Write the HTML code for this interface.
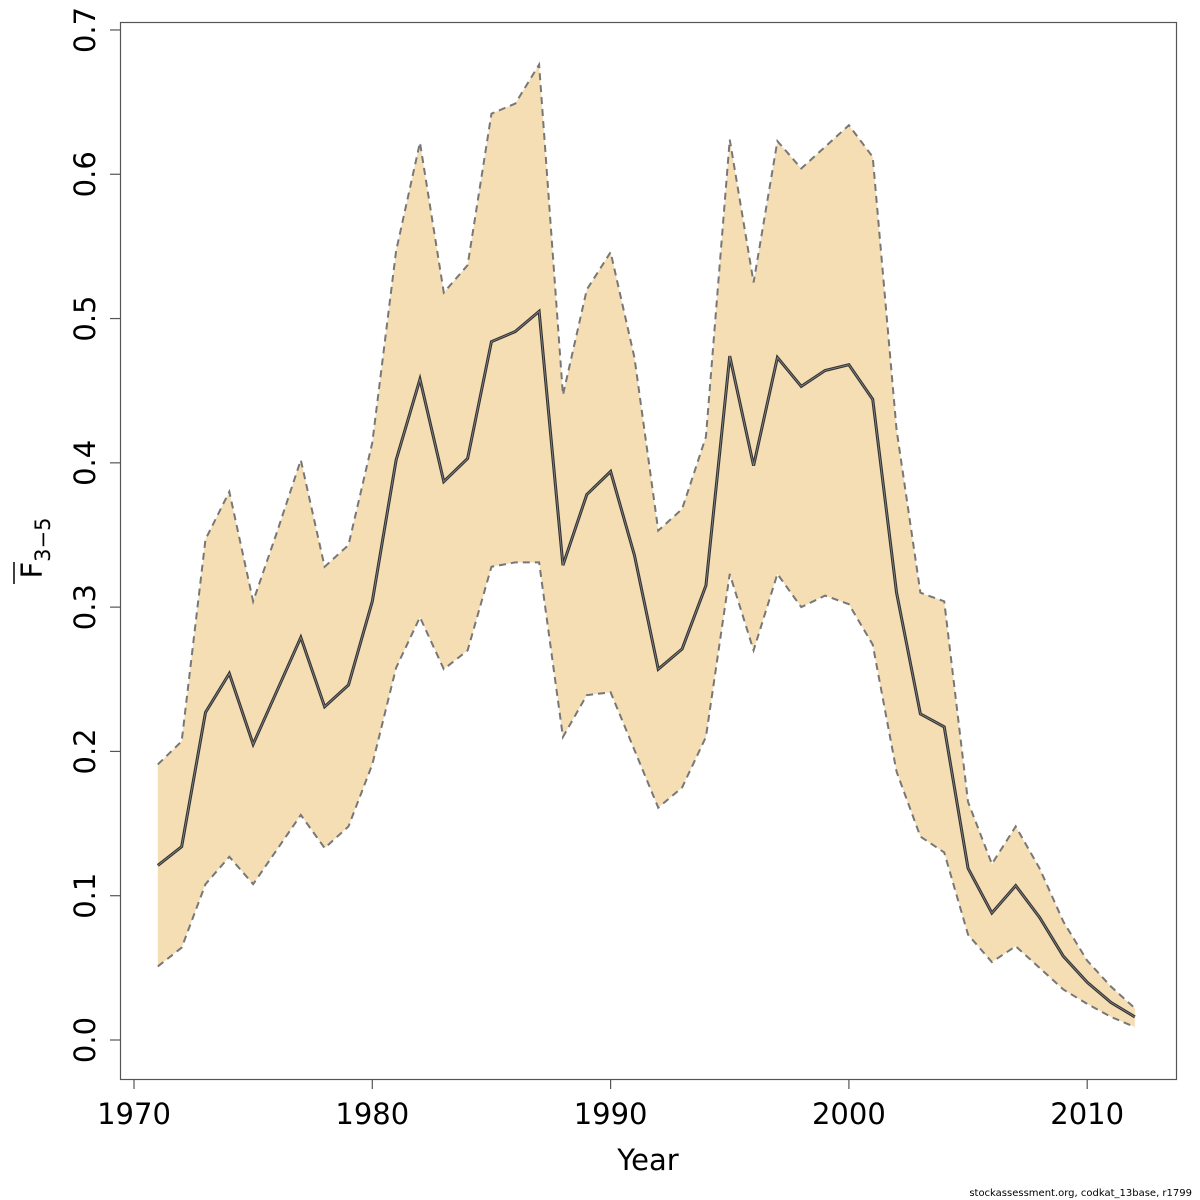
<!DOCTYPE html>
<html><head><meta charset="utf-8"><style>
body{margin:0;background:#fff}
svg{display:block;font-family:"DejaVu Sans","Liberation Sans",sans-serif}
</style></head><body>
<svg id="chart" width="1200" height="1200" viewBox="0 0 1200 1200" xmlns="http://www.w3.org/2000/svg">
<rect x="120.5" y="22.5" width="1056" height="1057" fill="none" stroke="#555" stroke-width="1.2"/>
<g id="bands"></g>
<g id="xaxis"></g>
<g id="yaxis"></g>
<text x="648" y="1170" font-size="29" text-anchor="middle">Year</text>
<g transform="translate(42,548) rotate(-90)">
<text x="0" y="0" font-size="29" text-anchor="middle">F<tspan font-size="21" dy="8">3−5</tspan></text>
<line x1="-36" y1="-28" x2="-14" y2="-28" stroke="#000" stroke-width="1.5"/>
</g>
<text x="1192" y="1196" font-size="10" text-anchor="end" font-family="DejaVu Sans, sans-serif">stockassessment.org, codkat_13base, r1799</text>
</svg>
<script>
const years=[1971,1972,1973,1974,1975,1976,1977,1978,1979,1980,1981,1982,1983,1984,1985,1986,1987,1988,1989,1990,1991,1992,1993,1994,1995,1996,1997,1998,1999,2000,2001,2002,2003,2004,2005,2006,2007,2008,2009,2010,2011,2012];
const estimate=[0.121,0.134,0.227,0.254,0.205,0.242,0.279,0.231,0.246,0.304,0.402,0.458,0.387,0.403,0.484,0.491,0.505,0.329,0.378,0.394,0.336,0.257,0.271,0.315,0.474,0.398,0.473,0.453,0.464,0.468,0.444,0.310,0.226,0.217,0.119,0.088,0.107,0.085,0.058,0.040,0.026,0.016];
const upper=[0.191,0.207,0.347,0.380,0.304,0.352,0.402,0.328,0.343,0.414,0.547,0.622,0.518,0.537,0.642,0.649,0.676,0.447,0.520,0.546,0.473,0.353,0.368,0.418,0.624,0.525,0.623,0.604,0.619,0.634,0.612,0.423,0.310,0.304,0.165,0.122,0.148,0.119,0.082,0.055,0.037,0.022];
const lower=[0.051,0.064,0.108,0.127,0.108,0.132,0.156,0.133,0.148,0.191,0.258,0.293,0.257,0.270,0.328,0.331,0.331,0.210,0.239,0.241,0.201,0.161,0.175,0.210,0.323,0.270,0.323,0.300,0.308,0.302,0.274,0.186,0.141,0.130,0.073,0.054,0.065,0.050,0.035,0.025,0.016,0.009];
const xTicks=[1970,1980,1990,2000,2010];
const yTicks=[0,0.1,0.2,0.3,0.4,0.5,0.6,0.7];
const yTickLabels=["0.0","0.1","0.2","0.3","0.4","0.5","0.6","0.7"];

const NS="http://www.w3.org/2000/svg";
const X=v=>134+(v-1970)*23.83;
const Y=v=>1040-v*1442.9;
function mk(tag,attrs,parent){const e=document.createElementNS(NS,tag);for(const k in attrs)e.setAttribute(k,attrs[k]);parent.appendChild(e);return e;}
const bands=document.getElementById('bands');
const up=years.map((y,i)=>X(y)+','+Y(upper[i]));
const lo=years.map((y,i)=>X(y)+','+Y(lower[i])).reverse();
const poly=mk('polygon',{points:up.concat(lo).join(' '),fill:'#f5deb3',stroke:'none'},bands);


const ul=mk('polyline',{points:up.join(' '),fill:'none',stroke:'#777','stroke-width':2,'stroke-dasharray':'7,5'},bands);


const ll=mk('polyline',{points:years.map((y,i)=>X(y)+','+Y(lower[i])).join(' '),fill:'none',stroke:'#777','stroke-width':2,'stroke-dasharray':'7,5'},bands);


const el=mk('polyline',{points:years.map((y,i)=>X(y)+','+Y(estimate[i])).join(' '),fill:'none',stroke:'#333','stroke-width':3},bands);


const eli=mk('polyline',{points:years.map((y,i)=>X(y)+','+Y(estimate[i])).join(' '),fill:'none',stroke:'#888','stroke-width':0.8},bands);



const xa=document.getElementById('xaxis');
xTicks.forEach(t=>{
  const l=mk('line',{x1:X(t),x2:X(t),y1:1079,y2:1089,stroke:'#555','stroke-width':1.2},xa);
  
  
  const tx=mk('text',{x:X(t),y:1124,'font-size':29,'text-anchor':'middle'},xa);
  tx.textContent=t;
  
  
});
const ya=document.getElementById('yaxis');
yTicks.forEach((t,i)=>{
  const l=mk('line',{x1:110,x2:120,y1:Y(t),y2:Y(t),stroke:'#555','stroke-width':1.2},ya);
  
  
  const tx=mk('text',{transform:`translate(95,${Y(t)}) rotate(-90)`,'font-size':29,'text-anchor':'middle'},ya);
  tx.textContent=yTickLabels[i];
  
  
});
</script>
</body></html>
